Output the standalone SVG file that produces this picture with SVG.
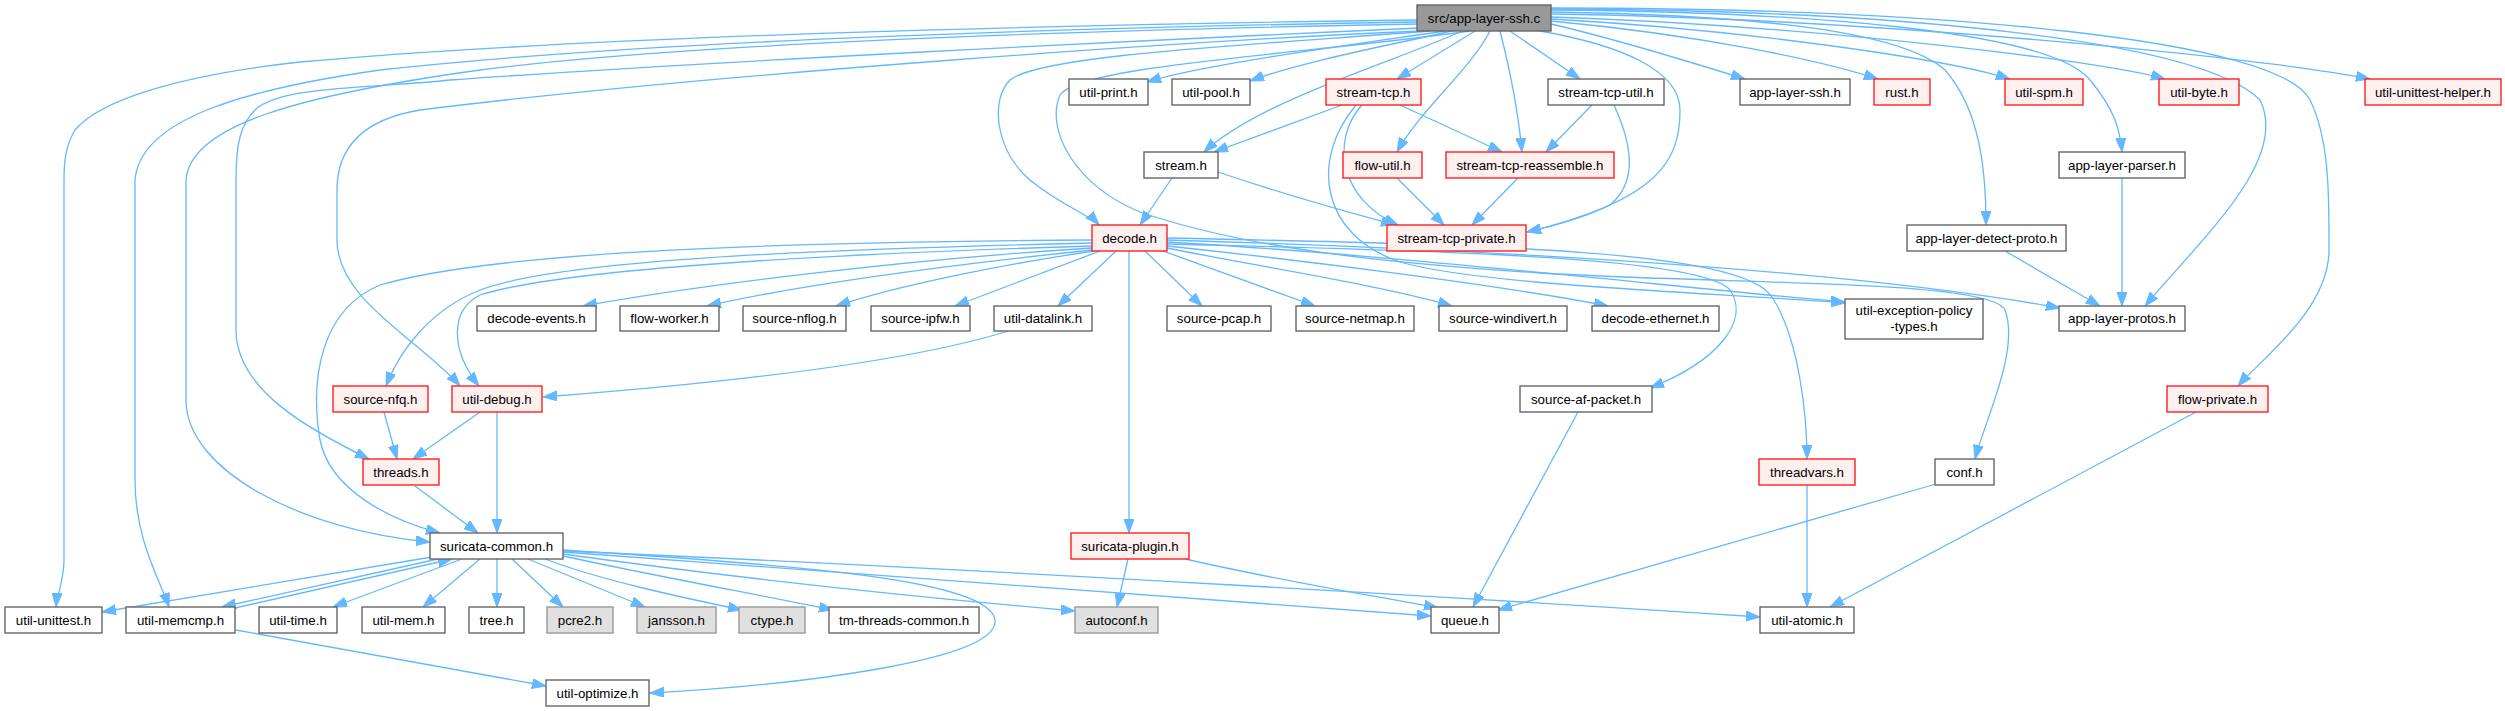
<svg xmlns="http://www.w3.org/2000/svg" width="2505" height="711" viewBox="0 0 2505 711">
<style>
rect{stroke-width:1.4}
.n rect{fill:#ffffff;stroke:#666666}
.r rect{fill:#fff0f0;stroke:#ff2020}
.g rect{fill:#e0e0e0;stroke:#999999}
.root rect{fill:#999999;stroke:#666666}
text{font-family:"Liberation Sans",Arial,sans-serif;font-size:13.3px;fill:#000;text-anchor:middle}
.e path{fill:none;stroke:#63b8ff;stroke-width:1.3;marker-end:url(#ah)}
</style>
<defs>
<marker id="ah" markerUnits="userSpaceOnUse" markerWidth="15" markerHeight="11" refX="14" refY="5" orient="auto">
<path d="M0,0 L14,5 L0,10 z" fill="#63b8ff" stroke="#63b8ff" stroke-width="1"/>
</marker>
</defs>
<rect width="2505" height="711" fill="#ffffff"/>
<g id="connectors" class="e">
<!-- root edges -->
<path d="M1417,20 C1100,24 600,35 300,62 C180,75 100,100 75,130 C66,145 64,160 64,180 L64,560 C64,580 57,595 56,607"/>
<path d="M1417,22 C1100,27 650,40 380,70 C240,90 140,120 135,180 L135,480 C135,540 160,580 169,607"/>
<path d="M1418,24 C1100,30 700,42 480,70 C300,95 190,125 186,180 L186,400 C186,470 300,530 430,542"/>
<path d="M1420,28 C1150,40 700,62 450,80 C380,88 280,85 255,110 C240,125 236,145 236,180 L236,330 C236,390 310,430 369,459"/>
<path d="M1422,31 C1200,40 700,75 420,110 C360,120 337,150 337,190 L337,240 C337,300 420,340 460,386"/>
<path d="M1430,31 C1250,45 1040,55 1010,80 C990,100 995,150 1030,180 C1060,205 1090,215 1099,225"/>
<path d="M1445,31 C1350,45 1200,65 1147,82"/>
<path d="M1452,31 C1390,45 1300,62 1250,81"/>
<path d="M1462,31 C1400,60 1260,100 1204,152"/>
<path d="M1475,31 L1397,79"/>
<path d="M1490,31 C1470,70 1420,110 1397,152"/>
<path d="M1500,31 C1510,70 1518,110 1522,152"/>
<path d="M1510,31 L1580,79"/>
<path d="M1540,31 C1620,45 1680,70 1680,110 C1680,160 1660,200 1527,232"/>
<path d="M1551,24 C1620,40 1700,65 1745,79"/>
<path d="M1551,21 C1700,35 1820,60 1878,79"/>
<path d="M1551,19 C1750,30 1950,60 2010,79"/>
<path d="M1551,17 C1800,25 2100,60 2165,79"/>
<path d="M1551,14 C1850,18 2250,55 2370,79"/>
<path d="M1551,12 C1750,15 1900,30 1945,70 C1980,110 1986,170 1986,225"/>
<path d="M1551,10 C1800,12 2050,30 2090,80 C2115,110 2120,130 2122,152"/>
<path d="M1551,9 C1900,10 2200,40 2260,100 C2290,160 2200,240 2145,306"/>
<path d="M1551,8 C1950,8 2280,40 2310,100 C2330,140 2329,200 2329,250 C2329,310 2260,360 2238,386"/>
<path d="M1470,31 C1300,55 1080,65 1060,95 C1045,130 1075,185 1140,212 C1250,250 1400,264 1540,273 C1750,285 1990,280 2005,310 C2020,350 1985,420 1975,459"/>
<!-- stream-tcp.h -->
<path d="M1342,105 L1214,152"/>
<path d="M1400,105 L1502,152"/>
<path d="M1362,105 C1330,140 1340,200 1398,225"/>
<path d="M1356,105 C1310,160 1320,235 1400,262 C1480,285 1700,292 1845,303"/>
<!-- stream-tcp-util.h -->
<path d="M1592,105 L1546,152"/>
<path d="M1614,105 C1630,140 1640,180 1610,205 C1580,220 1545,228 1527,232"/>
<!-- row 2 -->
<path d="M1172,178 L1140,225"/>
<path d="M1218,172 C1300,200 1360,215 1395,225"/>
<path d="M1397,178 L1444,225"/>
<path d="M1518,178 L1472,225"/>
<path d="M2122,178 L2122,306"/>
<path d="M2005,251 L2100,306"/>
<!-- decode.h -->
<path d="M1092,240 C800,242 500,250 380,285 C320,310 310,380 320,440 C330,490 390,520 440,533"/>
<path d="M1092,243 C800,250 560,260 480,290 C430,310 400,350 386,386"/>
<path d="M1092,246 C800,255 560,270 480,295 C450,310 450,350 479,386"/>
<path d="M1092,248 C900,260 700,285 583,306"/>
<path d="M1092,250 C950,265 800,285 707,306"/>
<path d="M1094,251 C1000,265 900,285 836,306"/>
<path d="M1100,251 L955,306"/>
<path d="M1116,251 L1058,306"/>
<path d="M1129,251 L1129,533"/>
<path d="M1145,251 L1202,306"/>
<path d="M1163,251 L1315,306"/>
<path d="M1167,248 C1250,265 1380,285 1452,306"/>
<path d="M1167,246 C1300,260 1500,285 1608,306"/>
<path d="M1167,242 C1400,255 1700,290 1845,302"/>
<path d="M1167,240 C1500,250 1850,270 2060,308"/>
<path d="M1167,238 C1500,245 1740,250 1772,297 C1800,340 1807,420 1807,459"/>
<path d="M1167,244 C1400,250 1700,255 1730,290 C1750,320 1720,360 1650,388"/>
<!-- row 4/5 -->
<path d="M1008,331 C900,365 700,385 543,397"/>
<path d="M384,412 L397,459"/>
<path d="M480,412 L413,459"/>
<path d="M497,412 L497,533"/>
<path d="M415,486 L478,533"/>
<path d="M1578,412 L1473,607"/>
<path d="M1936,484 L1498,610"/>
<path d="M1807,485 L1807,607"/>
<path d="M2196,412 L1830,607"/>
<!-- suricata-common.h -->
<path d="M432,557 L102,612"/>
<path d="M438,559 L222,607"/>
<path d="M235,608 L452,559"/>
<path d="M462,559 L333,607"/>
<path d="M480,559 L423,607"/>
<path d="M497,559 L497,607"/>
<path d="M512,559 L563,607"/>
<path d="M528,559 L645,607"/>
<path d="M545,559 C600,580 680,597 742,610"/>
<path d="M563,556 C650,575 760,595 833,610"/>
<path d="M563,554 C750,580 950,600 1075,611"/>
<path d="M563,552 C900,575 1200,600 1431,616"/>
<path d="M563,551 C1000,570 1500,600 1760,617"/>
<path d="M563,550 C800,565 990,580 995,620 C1000,660 800,685 650,693"/>
<path d="M236,630 L546,686"/>
<!-- suricata-plugin.h -->
<path d="M1128,559 L1117,607"/>
<path d="M1185,559 C1300,585 1400,600 1438,608"/>
</g>
<g id="n_root" class="root"><rect x="1417" y="5" width="134" height="26"/><text x="1484" y="22.5">src/app-layer-ssh.c</text></g>
<g id="n_util_print" class="n"><rect x="1069" y="79" width="79" height="26"/><text x="1108.5" y="96.5">util-print.h</text></g>
<g id="n_util_pool" class="n"><rect x="1172" y="79" width="78" height="26"/><text x="1211" y="96.5">util-pool.h</text></g>
<g id="n_stream_tcp" class="r"><rect x="1326" y="79" width="95" height="26"/><text x="1373.5" y="96.5">stream-tcp.h</text></g>
<g id="n_stream_tcp_util" class="n"><rect x="1548" y="79" width="116" height="26"/><text x="1606" y="96.5">stream-tcp-util.h</text></g>
<g id="n_app_layer_ssh" class="n"><rect x="1740" y="79" width="110" height="26"/><text x="1795" y="96.5">app-layer-ssh.h</text></g>
<g id="n_rust" class="r"><rect x="1874" y="79" width="56" height="26"/><text x="1902" y="96.5">rust.h</text></g>
<g id="n_util_spm" class="r"><rect x="2005" y="79" width="78" height="26"/><text x="2044" y="96.5">util-spm.h</text></g>
<g id="n_util_byte" class="r"><rect x="2159" y="79" width="80" height="26"/><text x="2199" y="96.5">util-byte.h</text></g>
<g id="n_util_unittest_helper" class="r"><rect x="2365" y="79" width="136" height="26"/><text x="2433" y="96.5">util-unittest-helper.h</text></g>
<g id="n_stream" class="n"><rect x="1144" y="152" width="74" height="26"/><text x="1181" y="169.5">stream.h</text></g>
<g id="n_flow_util" class="r"><rect x="1343" y="152" width="79" height="26"/><text x="1382.5" y="169.5">flow-util.h</text></g>
<g id="n_stream_tcp_reassemble" class="r"><rect x="1446" y="152" width="168" height="26"/><text x="1530" y="169.5">stream-tcp-reassemble.h</text></g>
<g id="n_app_layer_parser" class="n"><rect x="2059" y="152" width="126" height="26"/><text x="2122" y="169.5">app-layer-parser.h</text></g>
<g id="n_decode" class="r"><rect x="1092" y="225" width="75" height="26"/><text x="1129.5" y="242.5">decode.h</text></g>
<g id="n_stream_tcp_private" class="r"><rect x="1387" y="225" width="139" height="26"/><text x="1456.5" y="242.5">stream-tcp-private.h</text></g>
<g id="n_app_layer_detect_proto" class="n"><rect x="1907" y="225" width="159" height="26"/><text x="1986.5" y="242.5">app-layer-detect-proto.h</text></g>
<g id="n_decode_events" class="n"><rect x="477" y="306" width="119" height="25"/><text x="536.5" y="323">decode-events.h</text></g>
<g id="n_flow_worker" class="n"><rect x="620" y="306" width="99" height="25"/><text x="669.5" y="323">flow-worker.h</text></g>
<g id="n_source_nflog" class="n"><rect x="743" y="306" width="103" height="25"/><text x="794.5" y="323">source-nflog.h</text></g>
<g id="n_source_ipfw" class="n"><rect x="871" y="306" width="99" height="25"/><text x="920.5" y="323">source-ipfw.h</text></g>
<g id="n_util_datalink" class="n"><rect x="994" y="306" width="98" height="25"/><text x="1043" y="323">util-datalink.h</text></g>
<g id="n_source_pcap" class="n"><rect x="1167" y="306" width="104" height="25"/><text x="1219" y="323">source-pcap.h</text></g>
<g id="n_source_netmap" class="n"><rect x="1296" y="306" width="118" height="25"/><text x="1355" y="323">source-netmap.h</text></g>
<g id="n_source_windivert" class="n"><rect x="1439" y="306" width="128" height="25"/><text x="1503" y="323">source-windivert.h</text></g>
<g id="n_decode_ethernet" class="n"><rect x="1592" y="306" width="127" height="25"/><text x="1655.5" y="323">decode-ethernet.h</text></g>
<g id="n_util_exception_policy_types" class="n"><rect x="1845" y="299" width="138" height="40"/><text x="1914" y="315">util-exception-policy</text><text x="1914" y="330.5">-types.h</text></g>
<g id="n_app_layer_protos" class="n"><rect x="2059" y="306" width="126" height="25"/><text x="2122" y="323">app-layer-protos.h</text></g>
<g id="n_source_nfq" class="r"><rect x="333" y="386" width="95" height="26"/><text x="380.5" y="403.5">source-nfq.h</text></g>
<g id="n_util_debug" class="r"><rect x="452" y="386" width="90" height="26"/><text x="497" y="403.5">util-debug.h</text></g>
<g id="n_source_af_packet" class="n"><rect x="1520" y="386" width="132" height="26"/><text x="1586" y="403.5">source-af-packet.h</text></g>
<g id="n_flow_private" class="r"><rect x="2167" y="386" width="101" height="26"/><text x="2217.5" y="403.5">flow-private.h</text></g>
<g id="n_threads" class="r"><rect x="363" y="459" width="76" height="26"/><text x="401" y="476.5">threads.h</text></g>
<g id="n_threadvars" class="r"><rect x="1759" y="459" width="96" height="26"/><text x="1807" y="476.5">threadvars.h</text></g>
<g id="n_conf" class="n"><rect x="1935" y="459" width="59" height="26"/><text x="1964.5" y="476.5">conf.h</text></g>
<g id="n_suricata_common" class="n"><rect x="430" y="533" width="133" height="26"/><text x="496.5" y="550.5">suricata-common.h</text></g>
<g id="n_suricata_plugin" class="r"><rect x="1071" y="533" width="118" height="26"/><text x="1130" y="550.5">suricata-plugin.h</text></g>
<g id="n_util_unittest" class="n"><rect x="5" y="607" width="97" height="26"/><text x="53.5" y="624.5">util-unittest.h</text></g>
<g id="n_util_memcmp" class="n"><rect x="126" y="607" width="109" height="26"/><text x="180.5" y="624.5">util-memcmp.h</text></g>
<g id="n_util_time" class="n"><rect x="259" y="607" width="78" height="26"/><text x="298" y="624.5">util-time.h</text></g>
<g id="n_util_mem" class="n"><rect x="362" y="607" width="83" height="26"/><text x="403.5" y="624.5">util-mem.h</text></g>
<g id="n_tree" class="n"><rect x="469" y="607" width="55" height="26"/><text x="496.5" y="624.5">tree.h</text></g>
<g id="n_pcre2" class="g"><rect x="547" y="607" width="66" height="26"/><text x="580" y="624.5">pcre2.h</text></g>
<g id="n_jansson" class="g"><rect x="637" y="607" width="79" height="26"/><text x="676.5" y="624.5">jansson.h</text></g>
<g id="n_ctype" class="g"><rect x="739" y="607" width="66" height="26"/><text x="772" y="624.5">ctype.h</text></g>
<g id="n_tm_threads_common" class="n"><rect x="829" y="607" width="150" height="26"/><text x="904" y="624.5">tm-threads-common.h</text></g>
<g id="n_autoconf" class="g"><rect x="1075" y="607" width="83" height="26"/><text x="1116.5" y="624.5">autoconf.h</text></g>
<g id="n_queue" class="n"><rect x="1431" y="607" width="68" height="26"/><text x="1465" y="624.5">queue.h</text></g>
<g id="n_util_atomic" class="n"><rect x="1760" y="607" width="94" height="26"/><text x="1807" y="624.5">util-atomic.h</text></g>
<g id="n_util_optimize" class="n"><rect x="546" y="680" width="103" height="26"/><text x="597.5" y="697.5">util-optimize.h</text></g>
</svg>
